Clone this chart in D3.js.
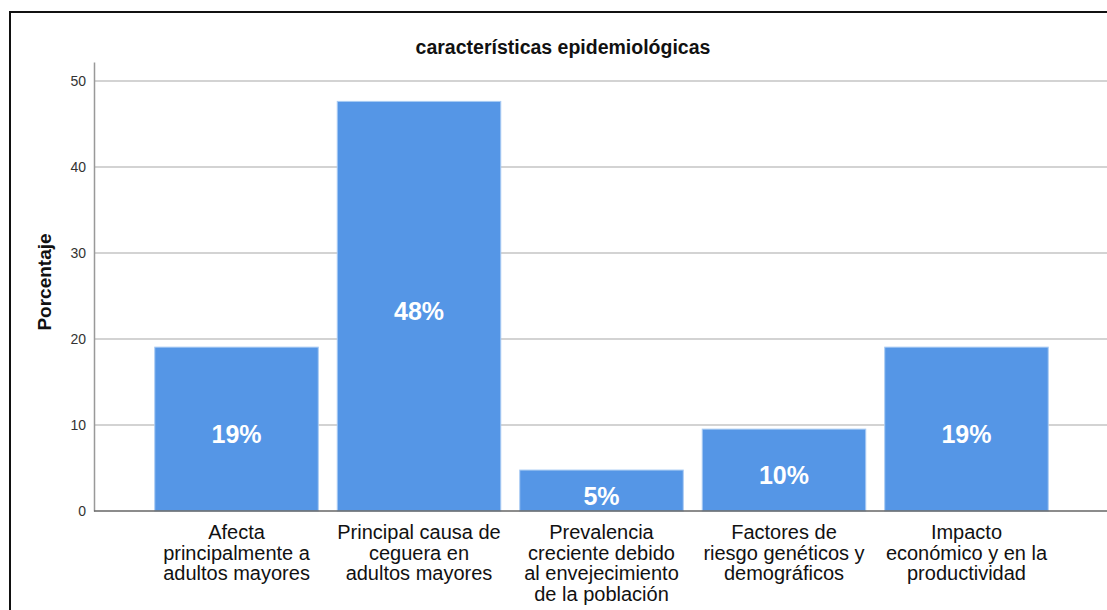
<!DOCTYPE html>
<html>
<head>
<meta charset="utf-8">
<script src="https://cdn.jsdelivr.net/npm/d3@7"></script>
<style>
  body { margin: 0; background: #fff; }
  svg { display: block; font-family: "Liberation Sans", Arial, sans-serif; }
</style>
</head>
<body>
<div id="chart"></div>
<script>
// chart data
const categories = [
    "Afecta principalmente a adultos mayores",
    "Principal causa de ceguera en adultos mayores",
    "Prevalencia creciente debido al envejecimiento de la población",
    "Factores de riesgo genéticos y demográficos",
    "Impacto económico y en la productividad"
];
const categoryLines = [
    ["Afecta", "principalmente a", "adultos mayores"],
    ["Principal causa de", "ceguera en", "adultos mayores"],
    ["Prevalencia", "creciente debido", "al envejecimiento", "de la población"],
    ["Factores de", "riesgo genéticos y", "demográficos"],
    ["Impacto", "económico y en la", "productividad"]
];
const percentages = [19.05, 47.62, 4.76, 9.52, 19.05];
const barLabels = ["19%", "48%", "5%", "10%", "19%"];
const yTicks = [0, 10, 20, 30, 40, 50];

const width = 1107, height = 610;
const margin = { top: 62, right: -2, bottom: 99, left: 94 };

const svg = d3.select("#chart")
    .append("svg")
    .attr("width", width)
    .attr("height", height);

// outer frame (cut off at right/bottom)
svg.append("rect")
    .attr("x", 10).attr("y", 12)
    .attr("width", 1120).attr("height", 620)
    .attr("fill", "none")
    .attr("stroke", "#111")
    .attr("stroke-width", 2);

const x = d3.scaleBand()
    .domain(categories)
    .range([margin.left, width - margin.right])
    .paddingInner(0.104)
    .paddingOuter(0.333);

const y = d3.scaleLinear()
    .domain([0, 52.2])
    .range([height - margin.bottom, margin.top]);

// title
svg.append("text")
    .attr("x", 563).attr("y", 54)
    .attr("text-anchor", "middle")
    .attr("font-size", "19.5px")
    .attr("font-weight", "bold")
    .attr("fill", "#111")
    .text("características epidemiológicas");

// gridlines
svg.append("g")
    .selectAll("line")
    .data(yTicks.filter(d => d > 0))
    .join("line")
    .attr("x1", margin.left).attr("x2", width)
    .attr("y1", d => y(d)).attr("y2", d => y(d))
    .attr("stroke", "#c4c4c4")
    .attr("stroke-width", 1.5);

// y axis
const yAxis = svg.append("g")
    .attr("transform", `translate(${margin.left},0)`)
    .call(d3.axisLeft(y).tickValues(yTicks).tickSize(0).tickPadding(8));
yAxis.select(".domain").attr("stroke", "#999").attr("stroke-width", 1.5);
yAxis.selectAll("text")
    .style("font-size", "14px")
    .attr("fill", "#333")
    .style("font-family", "'Liberation Sans', Arial, sans-serif");

// y axis title
svg.append("text")
    .attr("transform", "translate(51,282) rotate(-90)")
    .attr("text-anchor", "middle")
    .attr("font-size", "19px")
    .attr("font-weight", "bold")
    .attr("fill", "#111")
    .text("Porcentaje");

// bars
svg.append("g")
    .selectAll("rect")
    .data(percentages)
    .join("rect")
    .attr("x", (d, i) => x(categories[i]))
    .attr("y", d => y(d))
    .attr("width", x.bandwidth())
    .attr("height", d => y(0) - y(d))
    .attr("fill", "#5596e6")
    .attr("stroke", "#a9cbf3")
    .attr("stroke-width", 1);

// x axis line
svg.append("line")
    .attr("x1", margin.left).attr("x2", width)
    .attr("y1", y(0)).attr("y2", y(0))
    .attr("stroke", "#666")
    .attr("stroke-width", 1.5);

// value labels inside bars
svg.append("g")
    .selectAll("text")
    .data(percentages)
    .join("text")
    .attr("x", (d, i) => x(categories[i]) + x.bandwidth() / 2)
    .attr("y", d => (y(d) + y(0)) / 2 + 14)
    .attr("text-anchor", "middle")
    .attr("font-size", "25px")
    .attr("font-weight", "bold")
    .attr("fill", "#fff")
    .text((d, i) => barLabels[i]);

// category labels
const catGroups = svg.append("g")
    .selectAll("text")
    .data(categories)
    .join("text")
    .attr("text-anchor", "middle")
    .attr("font-size", "20px")
    .attr("fill", "#111");

catGroups.each(function (c, i) {
    d3.select(this).selectAll("tspan")
        .data(categoryLines[i])
        .join("tspan")
        .attr("x", x(c) + x.bandwidth() / 2)
        .attr("y", (l, j) => y(0) + 28 + j * 20.5)
        .text(l => l);
});
</script>
</body>
</html>
